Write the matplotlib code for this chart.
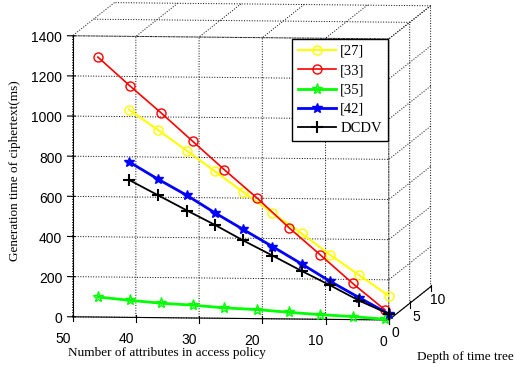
import matplotlib
matplotlib.use("Agg")
import matplotlib.pyplot as plt

plt.rcParams['grid.linestyle'] = ':'
plt.rcParams['grid.color'] = 'black'
plt.rcParams['grid.linewidth'] = 0.7
plt.rcParams['font.family'] = ['Liberation Sans', 'DejaVu Sans']

# attributes in access policy (x), depth of time tree (y), time in ms (z)
x_long = [46, 41, 36, 31, 26, 20.8, 15.8, 10.8, 5.7, 0.6]
x_short = [41.1, 36.5, 31.9, 27.5, 23.1, 18.4, 13.8, 9.3, 4.7, 0]
depth = [0, 0, 0, 0, 0, 0, 0, 0, 0, 0]

t_27 = [1035, 935, 832, 732, 632, 527, 427, 322, 222, 120]
t_33 = [1295, 1155, 1020, 880, 740, 600, 455, 320, 180, 50]
t_35 = [100, 85, 72, 64, 52, 45, 33, 23, 15, 3]
t_42 = [775, 690, 610, 525, 445, 360, 275, 190, 110, 30]
t_dcdv = [685, 610, 535, 465, 390, 315, 240, 170, 95, 30]

x_ticks = [0, 10, 20, 30, 40, 50]
y_ticks = [0, 5, 10]
z_ticks = [0, 200, 400, 600, 800, 1000, 1200, 1400]

fig = plt.figure(figsize=(5.16, 3.67), dpi=100)
ax = fig.add_axes([-0.022, 0.047, 1.0, 1.0], projection='3d', proj_type='ortho')
ax.view_init(elev=-5.1, azim=83.6)
ax.set_box_aspect((318, 375, 282), zoom=1.5)

ax.plot(x_short, depth, t_27, color='yellow', marker='o', mfc='none', ms=6.5, lw=1.5, label='[27]')
ax.plot(x_long, depth, t_33, color='red', marker='o', mfc='none', ms=6.5, lw=1.2, label='[33]')
ax.plot(x_long, depth, t_35, color='#00ff00', marker='*', mfc='none', ms=8, lw=2, label='[35]')
ax.plot(x_short, depth, t_42, color='blue', marker='*', ms=7, lw=2, label='[42]')
ax.plot(x_short, depth, t_dcdv, color='black', marker='+', ms=8, mew=1.5, lw=1.3, label='DCDV')

ax.set_xlim(0, 50)
ax.set_ylim(0, 10)
ax.set_zlim(0, 1400)
ax.set_xticks(x_ticks)
ax.set_yticks(y_ticks)
ax.set_zticks(z_ticks)
ax.tick_params(labelsize=10)
ax.tick_params(axis='x', pad=-1.5)
ax.tick_params(axis='y', pad=-5)
ax.tick_params(axis='z', pad=-4)
ax.xaxis.set_ticks_position('lower')
ax.yaxis.set_ticks_position('lower')
for lab in ax.get_xticklabels():
    lab.set_horizontalalignment('right')
for lab in ax.get_zticklabels():
    lab.set_horizontalalignment('right')
    lab.set_verticalalignment('center_baseline')

for a in (ax.xaxis, ax.yaxis, ax.zaxis):
    a.set_pane_color((1, 1, 1, 0))
    a.pane.set_edgecolor('none')

fig.text(0.324, 0.038, 'Number of attributes in access policy', family='Liberation Serif',
         fontsize=9.5, ha='center', va='center')
fig.text(0.808, 0.027, 'Depth of time tree', family='Liberation Serif',
         fontsize=9.5, ha='left', va='center')
fig.text(0.029, 0.534, 'Generation time of ciphertext(ms)', family='Liberation Serif',
         fontsize=9.5, ha='center', va='center', rotation=90)

ax.legend(loc='upper left', bbox_to_anchor=(0.566, 0.894), bbox_transform=fig.transFigure,
          prop={'family': 'Liberation Serif', 'size': 10.5}, fancybox=False, edgecolor='black',
          framealpha=1, handlelength=2.6, handletextpad=0.3, labelspacing=0.42,
          borderpad=0.4, borderaxespad=0)

fig.savefig('out.png', dpi=100)
